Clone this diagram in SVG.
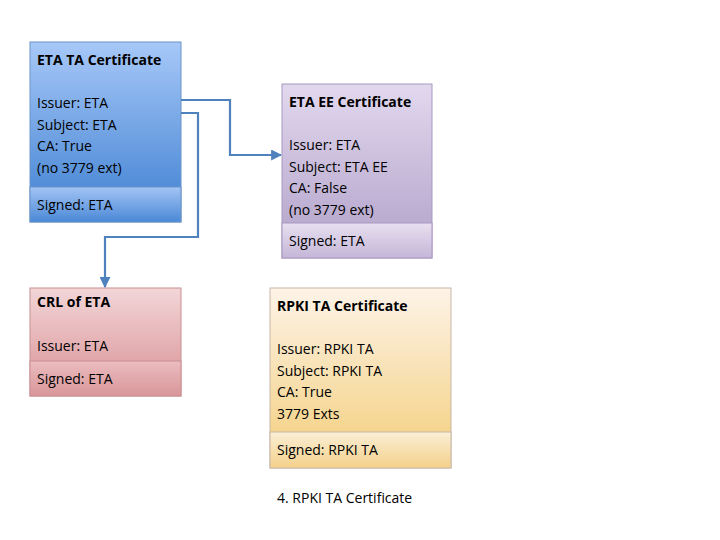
<svg xmlns="http://www.w3.org/2000/svg" width="720" height="540" viewBox="0 0 720 540">
<defs>
<linearGradient id="gb" x1="0" y1="0" x2="0" y2="1"><stop offset="0" stop-color="#a7c8f8"/><stop offset="1" stop-color="#3d7fd0"/></linearGradient>
<linearGradient id="gb2" x1="0" y1="0" x2="0" y2="1"><stop offset="0" stop-color="#a3c4f5"/><stop offset="1" stop-color="#4a88d6"/></linearGradient>
<linearGradient id="gp" x1="0" y1="0" x2="0" y2="1"><stop offset="0" stop-color="#e2d8ee"/><stop offset="1" stop-color="#b0a0c8"/></linearGradient>
<linearGradient id="gp2" x1="0" y1="0" x2="0" y2="1"><stop offset="0" stop-color="#e8e0f0"/><stop offset="1" stop-color="#c4b6d8"/></linearGradient>
<linearGradient id="gr" x1="0" y1="0" x2="0" y2="1"><stop offset="0" stop-color="#f2d6d8"/><stop offset="1" stop-color="#d98f93"/></linearGradient>
<linearGradient id="gr2" x1="0" y1="0" x2="0" y2="1"><stop offset="0" stop-color="#ebbcbf"/><stop offset="1" stop-color="#d8969a"/></linearGradient>
<linearGradient id="go" x1="0" y1="0" x2="0" y2="1"><stop offset="0" stop-color="#fdf3e8"/><stop offset="1" stop-color="#f3cd78"/></linearGradient>
<linearGradient id="go2" x1="0" y1="0" x2="0" y2="1"><stop offset="0" stop-color="#fbefd6"/><stop offset="1" stop-color="#f4d08a"/></linearGradient>
<marker id="ar" viewBox="0 0 10 10" refX="9" refY="5" markerWidth="5" markerHeight="5" orient="auto"><path d="M0,0L10,5L0,10z" fill="#4f81bd"/></marker>
</defs>
<style>
text{font-family:"Open Sans","Liberation Sans",sans-serif;font-size:14px;fill:#000}
.b{font-weight:bold}
.box{stroke-width:1}
.c{fill:none;stroke:#4f81bd;stroke-width:2.2;marker-end:url(#ar)}
</style>
<g id="eta-ta">
<rect x="30" y="42" width="151" height="180" fill="url(#gb)" stroke="#6b94c8"/>
<rect x="30" y="187" width="151" height="35" fill="url(#gb2)" stroke="#6b94c8"/>
<text x="37" y="65" class="b">ETA TA Certificate</text>
<text x="37" y="108">Issuer: ETA</text>
<text x="37" y="130">Subject: ETA</text>
<text x="37" y="151">CA: True</text>
<text x="37" y="173">(no 3779 ext)</text>
<text x="37" y="210">Signed: ETA</text>
</g>
<g id="eta-ee">
<rect x="282" y="84" width="150" height="174" fill="url(#gp)" stroke="#a898c0"/>
<rect x="282" y="223" width="150" height="35" fill="url(#gp2)" stroke="#a898c0"/>
<text x="289" y="107" class="b">ETA EE Certificate</text>
<text x="289" y="150">Issuer: ETA</text>
<text x="289" y="172">Subject: ETA EE</text>
<text x="289" y="193">CA: False</text>
<text x="289" y="215">(no 3779 ext)</text>
<text x="289" y="246">Signed: ETA</text>
</g>
<g id="crl">
<rect x="30" y="288" width="151" height="108" fill="url(#gr)" stroke="#c89090"/>
<rect x="30" y="361" width="151" height="35" fill="url(#gr2)" stroke="#c89090"/>
<text x="37" y="307" class="b">CRL of ETA</text>
<text x="37" y="351">Issuer: ETA</text>
<text x="37" y="384">Signed: ETA</text>
</g>
<g id="rpki-ta">
<rect x="270" y="288" width="181" height="180" fill="url(#go)" stroke="#c8b8a8"/>
<rect x="270" y="432" width="181" height="36" fill="url(#go2)" stroke="#c8b8a8"/>
<text x="277" y="311" class="b">RPKI TA Certificate</text>
<text x="277" y="354">Issuer: RPKI TA</text>
<text x="277" y="376">Subject: RPKI TA</text>
<text x="277" y="397">CA: True</text>
<text x="277" y="419">3779 Exts</text>
<text x="277" y="455">Signed: RPKI TA</text>
</g>
<text x="277" y="503">4. RPKI TA Certificate</text>
<g id="connectors">
<path class="c" d="M181,100H230V155H281"/>
<path class="c" d="M181,113H198V237H105V287"/>
</g>
</svg>
